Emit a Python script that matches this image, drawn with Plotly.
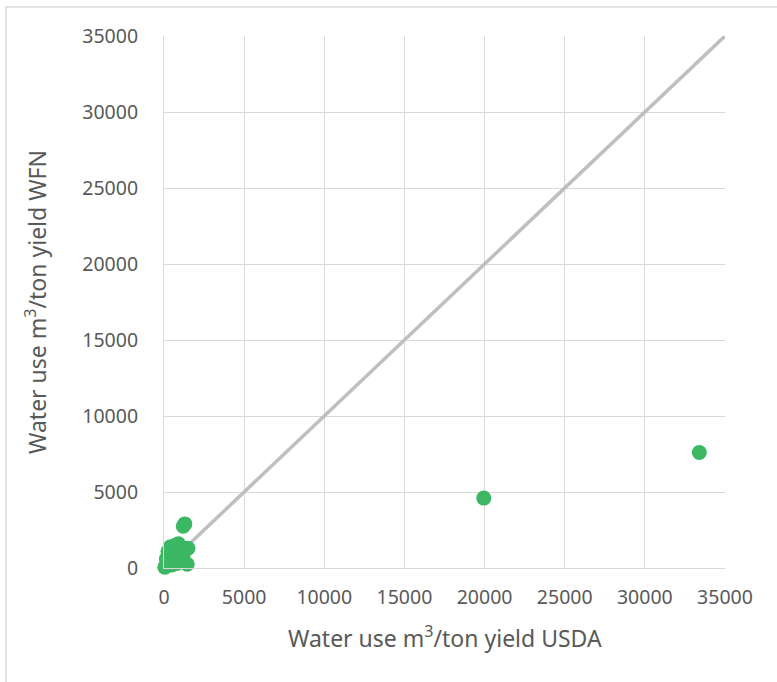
import plotly.graph_objects as go

# Data
usda = [33400, 19950, 1300, 1200, 900, 1000, 1500, 700, 400, 300, 1200,
        600, 200, 100, 500, 1450, 800, 50, 1000, 300, 600, 150, 900, 250]
wfn = [7600, 4600, 2900, 2750, 1600, 1400, 1300, 1500, 1400, 800, 900,
       600, 300, 100, 200, 250, 300, 50, 700, 400, 1000, 600, 500, 1100]
line_xy = [0, 35000]
ticks = [0, 5000, 10000, 15000, 20000, 25000, 30000, 35000]

W, H = 777, 682
L, R, T, B = 164, 52, 36, 114
pw, ph = W - L - R, H - T - B

FONT = "Noto Sans, Open Sans, sans-serif"
TXT = "#595959"
GRID = "#D9D9D9"

fig = go.Figure()
fig.add_trace(go.Scatter(x=line_xy, y=line_xy, mode="lines",
                         line=dict(color="#BFBFBF", width=3.5),
                         hoverinfo="skip", showlegend=False))
fig.add_trace(go.Scatter(x=usda, y=wfn, mode="markers",
                         marker=dict(color="#3CB764", size=15),
                         cliponaxis=False, showlegend=False))

axis_common = dict(range=[0, 35000], tickvals=ticks,
                   ticktext=[str(t) for t in ticks],
                   showgrid=True, gridcolor=GRID, gridwidth=1,
                   zeroline=False, showline=True, linecolor=GRID, linewidth=1,
                   ticks="outside", tickcolor="rgba(0,0,0,0)",
                   tickfont=dict(family=FONT, size=19.5, color=TXT),
                   fixedrange=True)

fig.update_layout(
    width=W, height=H,
    margin=dict(l=L, r=R, t=T, b=B, autoexpand=False),
    paper_bgcolor="white", plot_bgcolor="white",
    xaxis=dict(**axis_common, ticklen=12),
    yaxis=dict(**axis_common, ticklen=21),
    shapes=[dict(type="rect", xref="paper", yref="paper",
                 x0=(6 - L) / pw, x1=(W + 20 - L) / pw,
                 y0=(H - B - (H + 20)) / ph, y1=(H - B - 7) / ph,
                 line=dict(color=GRID, width=1.5), fillcolor="rgba(0,0,0,0)",
                 layer="below")],
    annotations=[
        dict(text="Water use m<sup>3</sup>/ton yield USDA", xref="paper", yref="paper",
             x=0.5, y=(H - B - 637) / ph, xanchor="center", yanchor="middle",
             showarrow=False, font=dict(family=FONT, size=23, color=TXT)),
        dict(text="Water use m<sup>3</sup>/ton yield WFN", xref="paper", yref="paper",
             x=(36 - L) / pw, y=(H - B - 302) / ph, xanchor="center", yanchor="middle",
             textangle=-90, showarrow=False, font=dict(family=FONT, size=23, color=TXT)),
    ],
)

fig.write_html("out.html", config={"displayModeBar": False},
               post_script="document.body.style.margin='0';document.body.style.overflow='hidden';")
